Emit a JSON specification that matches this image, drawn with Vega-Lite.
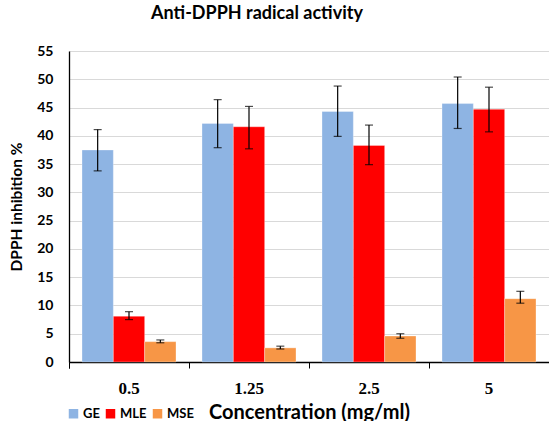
{
  "$schema": "https://vega.github.io/schema/vega-lite/v6.json",
  "width": 480,
  "height": 311,
  "autosize": {"type": "none"},
  "padding": {"left": 69, "top": 51, "right": 0, "bottom": 59},
  "background": "white",
  "title": {
    "text": "Anti-DPPH radical activity",
    "font": "Lato",
    "fontSize": 18,
    "fontWeight": "bold",
    "color": "#000000",
    "anchor": "middle",
    "dx": -52,
    "offset": 21
  },
  "config": {
    "view": {"stroke": null},
    "font": "Lato"
  },
  "data": {
    "values": [
      {"conc": "0.5", "sample": "GE", "value": 37.5, "lo": 33.8, "hi": 41.1},
      {"conc": "0.5", "sample": "MLE", "value": 8.1, "lo": 7.5, "hi": 8.9},
      {"conc": "0.5", "sample": "MSE", "value": 3.6, "lo": 3.4, "hi": 3.9},
      {"conc": "1.25", "sample": "GE", "value": 42.2, "lo": 37.9, "hi": 46.4},
      {"conc": "1.25", "sample": "MLE", "value": 41.6, "lo": 37.7, "hi": 45.2},
      {"conc": "1.25", "sample": "MSE", "value": 2.5, "lo": 2.3, "hi": 2.8},
      {"conc": "2.5", "sample": "GE", "value": 44.3, "lo": 39.9, "hi": 48.8},
      {"conc": "2.5", "sample": "MLE", "value": 38.3, "lo": 34.9, "hi": 41.9},
      {"conc": "2.5", "sample": "MSE", "value": 4.6, "lo": 4.2, "hi": 5.0},
      {"conc": "5", "sample": "GE", "value": 45.7, "lo": 41.3, "hi": 50.4},
      {"conc": "5", "sample": "MLE", "value": 44.7, "lo": 40.7, "hi": 48.6},
      {"conc": "5", "sample": "MSE", "value": 11.2, "lo": 10.4, "hi": 12.5}
    ]
  },
  "encoding": {
    "x": {
      "field": "conc",
      "type": "nominal",
      "sort": ["0.5", "1.25", "2.5", "5"],
      "scale": {"paddingInner": 0, "paddingOuter": 0},
      "axis": {
        "title": "Concentration (mg/ml)",
        "titleFont": "Lato",
        "titleFontSize": 20,
        "titleFontWeight": "bold",
        "titleColor": "#000000",
        "titlePadding": 6,
        "labelAngle": 0,
        "labelFont": "Liberation Serif",
        "labelFontSize": 17,
        "labelFontWeight": "bold",
        "labelColor": "#000000",
        "labelPadding": 12,
        "bandPosition": 0,
        "tickExtra": true,
        "labelOffset": 0,
        "tickSize": 6,
        "tickColor": "#000000",
        "domainColor": "#000000",
        "domainWidth": 1.3,
        "grid": false
      }
    },
    "xOffset": {
      "field": "sample",
      "type": "nominal",
      "sort": ["GE", "MLE", "MSE"],
      "scale": {"paddingInner": 0, "paddingOuter": 0.415}
    },
    "y": {
      "field": "value",
      "type": "quantitative",
      "scale": {"domain": [0, 55], "nice": false},
      "axis": {
        "values": [0, 5, 10, 15, 20, 25, 30, 35, 40, 45, 50, 55],
        "labelOverlap": false,
        "title": "DPPH inhibition %",
        "titleFont": "Lato",
        "titleFontSize": 15.5,
        "titleFontWeight": "bold",
        "titleColor": "#000000",
        "titlePadding": 12,
        "labelFont": "Lato",
        "labelFontSize": 14,
        "labelFontWeight": "bold",
        "labelColor": "#000000",
        "labelPadding": 16,
        "tickSize": 0,
        "grid": true,
        "gridColor": "#d9d9d9",
        "gridWidth": 1,
        "domainColor": "#000000",
        "domainWidth": 1.3
      }
    }
  },
  "layer": [
    {
      "mark": {"type": "bar", "stroke": "#ffffff", "strokeOpacity": 0.4, "strokeWidth": 0.8},
      "encoding": {
        "color": {
          "field": "sample",
          "type": "nominal",
          "sort": ["GE", "MLE", "MSE"],
          "scale": {"domain": ["GE", "MLE", "MSE"], "range": ["#8EB4E3", "#FF0000", "#F79646"]},
          "legend": {
            "title": null,
            "orient": "none",
            "legendX": -2,
            "legendY": 356,
            "direction": "horizontal",
            "symbolType": "square",
            "symbolSize": 90,
            "symbolStrokeWidth": 0,
            "labelFont": "Lato",
            "labelFontSize": 13,
            "labelFontWeight": "bold",
            "labelColor": "#000000",
            "columnPadding": 4,
            "labelOffset": 3
          }
        }
      }
    },
    {
      "mark": {"type": "rule", "color": "#000000", "strokeWidth": 1.2},
      "encoding": {
        "y": {"field": "lo", "type": "quantitative"},
        "y2": {"field": "hi"}
      }
    },
    {
      "mark": {"type": "tick", "color": "#000000", "thickness": 1.2, "size": 8, "orient": "horizontal"},
      "encoding": {
        "y": {"field": "lo", "type": "quantitative"}
      }
    },
    {
      "mark": {"type": "tick", "color": "#000000", "thickness": 1.2, "size": 8, "orient": "horizontal"},
      "encoding": {
        "y": {"field": "hi", "type": "quantitative"}
      }
    }
  ]
}
